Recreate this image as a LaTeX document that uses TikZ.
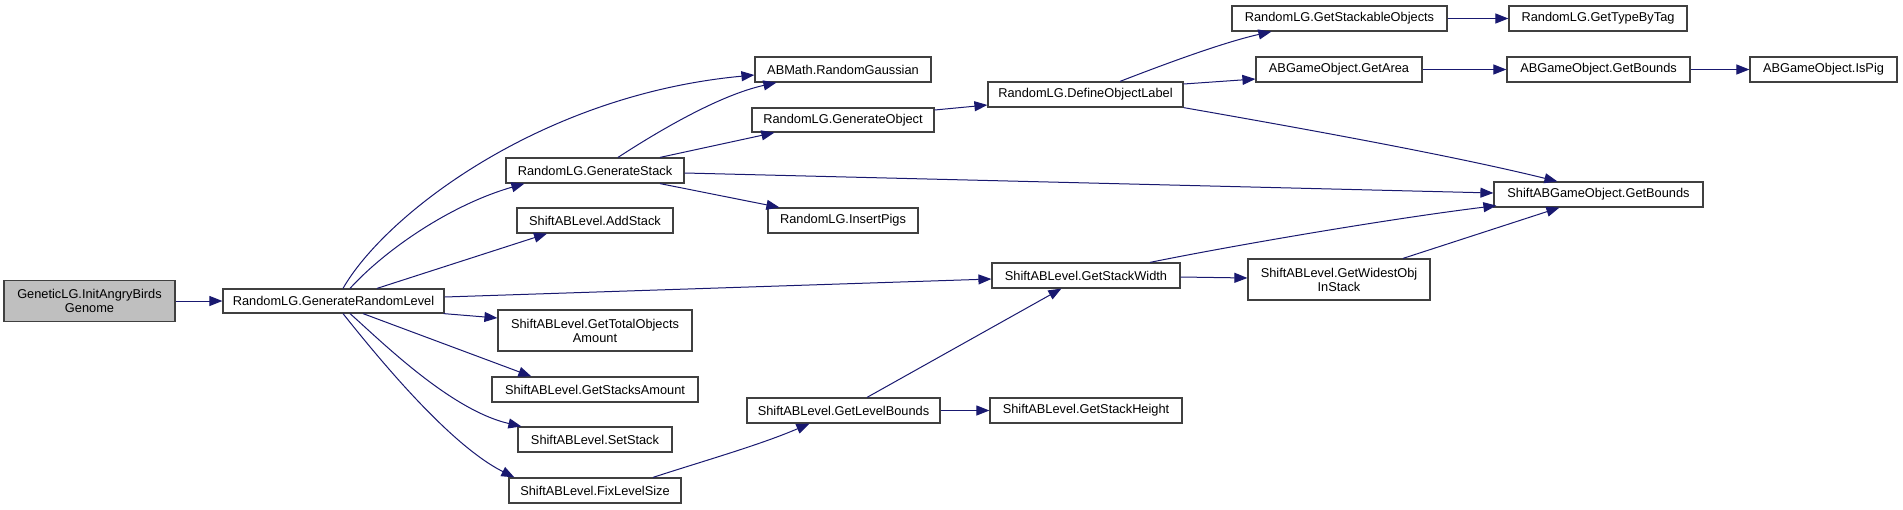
\documentclass[tikz,border=0pt]{standalone}
\usepackage{fontspec}
\setmainfont{Liberation Sans}
\usetikzlibrary{arrows.meta,calc}
\definecolor{edgec}{HTML}{191970}
\definecolor{boxc}{HTML}{404040}
\definecolor{genfill}{HTML}{BFBFBF}
\begin{document}
\begin{tikzpicture}[x=1pt,y=-1pt,
  box/.style={draw=boxc,line width=1.2pt,fill=white,rectangle,inner sep=0pt,minimum height=25pt,
    font=\fontsize{12.8}{14}\selectfont,align=center},
  box2/.style={box,minimum height=41pt},
  edge/.style={draw=edgec,line width=1pt,-{Triangle[length=13pt,width=10pt]}}]
\fill[white] (0,0) rectangle (1903,509);
\useasboundingbox (0,0) rectangle (1903,509);

\node[box2,fill=genfill,minimum width=171pt] (gen) at (89.5,301) {GeneticLG.InitAngryBirds\\Genome};
\node[box,minimum width=221pt,minimum height=24pt] (grl) at (333.5,301) {RandomLG.GenerateRandomLevel};
\node[box,minimum width=176pt] (rg) at (843,69.5) {ABMath.RandomGaussian};
\node[box,minimum width=182pt,minimum height=24pt] (go) at (843,120) {RandomLG.GenerateObject};
\node[box,minimum width=178pt] (gs) at (595,170.5) {RandomLG.GenerateStack};
\node[box,minimum width=156pt] (as) at (595,220.5) {ShiftABLevel.AddStack};
\node[box,minimum width=150pt] (ip) at (843,220.5) {RandomLG.InsertPigs};
\node[box,minimum width=215pt] (gso) at (1339.5,18.5) {RandomLG.GetStackableObjects};
\node[box,minimum width=166pt] (ga) at (1339,69.5) {ABGameObject.GetArea};
\node[box,minimum width=195pt] (dol) at (1085.5,94.5) {RandomLG.DefineObjectLabel};
\node[box,minimum width=178pt] (gtbt) at (1598,18.5) {RandomLG.GetTypeByTag};
\node[box,minimum width=183pt] (agb) at (1598.5,69.5) {ABGameObject.GetBounds};
\node[box,minimum width=147pt] (isp) at (1823.5,69.5) {ABGameObject.IsPig};
\node[box,minimum width=209pt] (sgb) at (1598.5,194.5) {ShiftABGameObject.GetBounds};
\node[box2,minimum width=194pt] (gtoa) at (595,330.5) {ShiftABLevel.GetTotalObjects\\Amount};
\node[box,minimum width=206pt] (gsa) at (595,389.5) {ShiftABLevel.GetStacksAmount};
\node[box,minimum width=154pt] (ss) at (595,439.5) {ShiftABLevel.SetStack};
\node[box,minimum width=172pt] (fls) at (595,490.5) {ShiftABLevel.FixLevelSize};
\node[box,minimum width=193pt] (glb) at (843.5,410.5) {ShiftABLevel.GetLevelBounds};
\node[box,minimum width=188pt] (gsw) at (1086,275.5) {ShiftABLevel.GetStackWidth};
\node[box2,minimum width=182pt] (gwo) at (1339,279.5) {ShiftABLevel.GetWidestObj\\InStack};
\node[box,minimum width=192pt] (gsh) at (1086,410.5) {ShiftABLevel.GetStackHeight};

\draw[edge] (gen.east) -- (grl.west);
\draw[edge] ($(grl.north)+(9.5,0)$) .. controls (385,215) and (540,95) .. ($(rg.west)+(0,5.5)$);
\draw[edge] ($(grl.north)+(16.5,0)$) .. controls (385,250) and (450,205) .. ($(gs.south west)+(19,0)$);
\draw[edge] ($(grl.north)+(43.5,0)$) -- ($(as.south)+(-48,0)$);
\draw[edge] ($(grl.east)+(0,-4)$) -- ($(gsw.west)+(0,3.5)$);
\draw[edge] ($(grl.south east)+(-1,0)$) -- ($(gtoa.west)+(0,-12.5)$);
\draw[edge] ($(grl.south)+(29.5,0)$) -- ($(gsa.north west)+(40,0)$);
\draw[edge] ($(grl.south)+(16.5,0)$) .. controls (380,340) and (450,410) .. ($(ss.north west)+(4,0)$);
\draw[edge] ($(grl.south)+(9.5,0)$) .. controls (380,360) and (450,445) .. ($(fls.north west)+(6,0)$);

\draw[edge] ($(gs.north)+(23,0)$) .. controls (660,130) and (720,95) .. ($(rg.south west)+(22,0)$);
\draw[edge] ($(gs.north)+(65,0)$) -- ($(go.south west)+(23,0)$);
\draw[edge] ($(gs.east)+(0,2.5)$) -- ($(sgb.west)+(0,-1.5)$);
\draw[edge] ($(gs.south)+(65,0)$) -- ($(ip.north west)+(12,0)$);
\draw[edge] ($(go.east)+(0,-10)$) -- ($(dol.west)+(0,10.5)$);
\draw[edge] ($(dol.north)+(34.5,0)$) .. controls (1170,62) and (1225,42) .. ($(gso.south west)+(40,0)$);
\draw[edge] ($(dol.east)+(0,-10.5)$) -- ($(ga.west)+(0,9.5)$);
\draw[edge] (dol.south east) .. controls (1300,128) and (1450,155) .. ($(sgb.north west)+(64,0)$);
\draw[edge] (gso.east) -- (gtbt.west);
\draw[edge] (ga.east) -- (agb.west);
\draw[edge] (agb.east) -- (isp.west);
\draw[edge] ($(gsw.north)+(64,0)$) .. controls (1220,248) and (1380,220) .. ($(sgb.south west)+(3,-2)$);
\draw[edge] ($(gsw.east)+(0,1.5)$) -- ($(gwo.west)+(0,-1.5)$);
\draw[edge] ($(gwo.north)+(64,0)$) -- ($(sgb.south west)+(66,0)$);
\draw[edge] ($(fls.north)+(58,0)$) .. controls (700,462) and (760,445) .. ($(glb.south west)+(63,0)$);
\draw[edge] ($(glb.north)+(23.5,0)$) -- ($(gsw.south west)+(70,0)$);
\draw[edge] (glb.east) -- (gsh.west);
\end{tikzpicture}
\end{document}
